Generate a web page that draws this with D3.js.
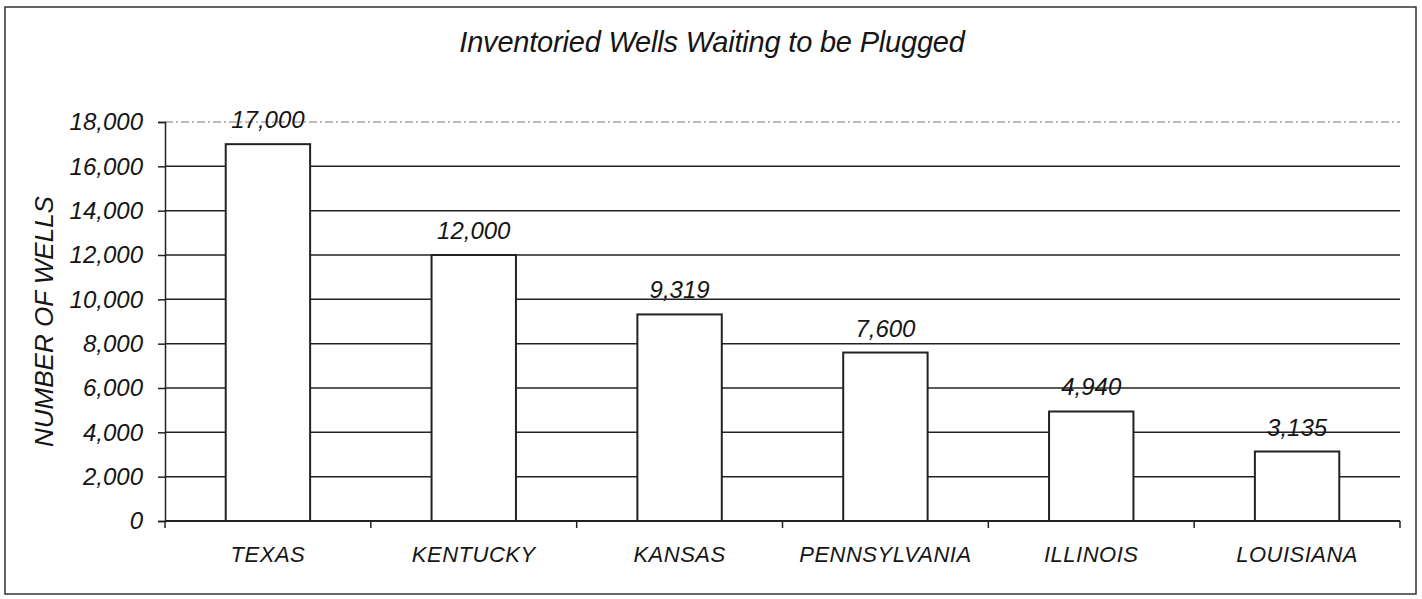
<!DOCTYPE html>
<html>
<head>
<script src="https://d3js.org/d3.v7.min.js"></script>
<style>
body { margin: 0; background: #fff; }
text { font-family: "Liberation Sans", Arial, sans-serif; font-style: italic; fill: #151515; }
</style>
</head>
<body>
<script>
var states = ['TEXAS', 'KENTUCKY', 'KANSAS', 'PENNSYLVANIA', 'ILLINOIS', 'LOUISIANA'];
var wells = [17000, 12000, 9319, 7600, 4940, 3135];
var yTicks = [0, 2000, 4000, 6000, 8000, 10000, 12000, 14000, 16000, 18000];

var width = 1422, height = 599;
var margin = { top: 122, right: 22, bottom: 78, left: 165 };
var innerW = width - margin.left - margin.right;
var innerH = height - margin.top - margin.bottom;

var svg = d3.select('body').append('svg')
    .attr('width', width)
    .attr('height', height);

// outer frame
svg.append('rect')
    .attr('x', 5).attr('y', 7)
    .attr('width', 1411).attr('height', 587)
    .attr('fill', 'none')
    .attr('stroke', '#333')
    .attr('stroke-width', 1.5);

svg.append('text')
    .attr('x', 712).attr('y', 52)
    .attr('text-anchor', 'middle')
    .style('font-size', '29px')
    .style('letter-spacing', '-0.2px')
    .text('Inventoried Wells Waiting to be Plugged');

var g = svg.append('g')
    .attr('transform', 'translate(' + margin.left + ',' + margin.top + ')');

var x = d3.scaleBand()
    .domain(states)
    .range([0, innerW])
    .paddingInner(0.59)
    .paddingOuter(0.295);

var y = d3.scaleLinear()
    .domain([0, 18000])
    .range([innerH, 0]);

// gridlines (top one is faint and broken in the scan)
g.selectAll('.grid')
    .data(yTicks.filter(function(d) { return d > 0; }))
    .enter().append('line')
    .attr('x1', 0).attr('x2', innerW)
    .attr('y1', function(d) { return y(d); })
    .attr('y2', function(d) { return y(d); })
    .attr('stroke', function(d) { return d === 18000 ? '#777' : '#222'; })
    .attr('stroke-width', function(d) { return d === 18000 ? 1 : 1.5; })
    .attr('stroke-dasharray', function(d) { return d === 18000 ? '8,3,2,3' : null; });

// y axis
var yAxis = g.append('g')
    .call(d3.axisLeft(y).tickValues(yTicks).tickSize(7).tickPadding(15)
        .tickFormat(d3.format(',')));
yAxis.select('.domain').attr('stroke', '#222').attr('stroke-width', 1.5);
yAxis.selectAll('.tick line').attr('stroke', '#222').attr('stroke-width', 1.5);
yAxis.selectAll('text').style('font-size', '24px').attr('fill', '#151515');

// x axis, ticks sit at category boundaries
var xAxis = g.append('g')
    .attr('transform', 'translate(0,' + innerH + ')');
xAxis.append('line')
    .attr('x1', 0).attr('x2', innerW)
    .attr('stroke', '#222').attr('stroke-width', 2);
var step = x.step();
xAxis.selectAll('.xtick')
    .data(d3.range(states.length + 1))
    .enter().append('line')
    .attr('x1', function(i) { return i * step; })
    .attr('x2', function(i) { return i * step; })
    .attr('y1', 0).attr('y2', 7)
    .attr('stroke', '#222').attr('stroke-width', 1.5);
xAxis.selectAll('.xlabel')
    .data(states)
    .enter().append('text')
    .attr('x', function(d) { return x(d) + x.bandwidth() / 2; })
    .attr('y', 41)
    .attr('text-anchor', 'middle')
    .style('font-size', '22px')
    .style('letter-spacing', '0.5px')
    .text(function(d) { return d; });

// bars
g.selectAll('.bar')
    .data(states)
    .enter().append('rect')
    .attr('x', function(d) { return x(d); })
    .attr('y', function(d, i) { return y(wells[i]); })
    .attr('width', x.bandwidth())
    .attr('height', function(d, i) { return innerH - y(wells[i]); })
    .attr('fill', '#fff')
    .attr('stroke', '#222')
    .attr('stroke-width', 2);

// value labels
g.selectAll('.val')
    .data(states)
    .enter().append('text')
    .attr('x', function(d) { return x(d) + x.bandwidth() / 2; })
    .attr('y', function(d, i) { return y(wells[i]) - 16; })
    .attr('text-anchor', 'middle')
    .style('font-size', '24px')
    .text(function(d, i) { return d3.format(',')(wells[i]); });

// y axis title
svg.append('text')
    .attr('transform', 'translate(53,' + (margin.top + innerH / 2) + ') rotate(-90)')
    .attr('text-anchor', 'middle')
    .style('font-size', '26px')
    .text('NUMBER OF WELLS');
</script>
</body>
</html>
